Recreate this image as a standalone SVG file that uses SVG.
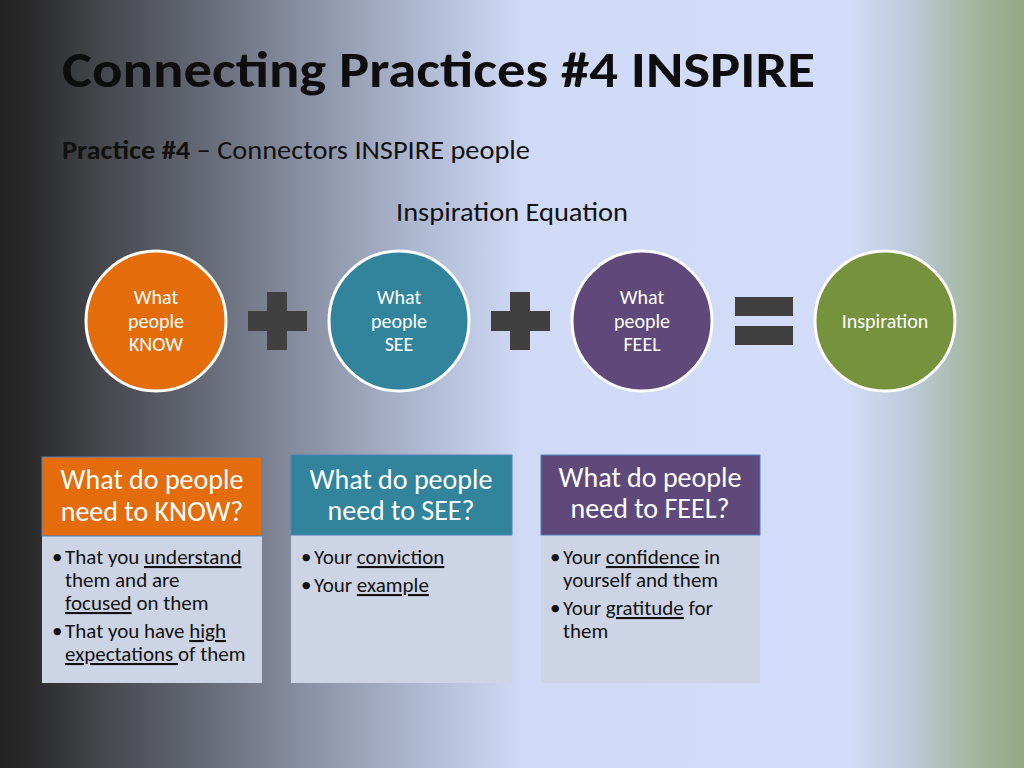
<svg xmlns="http://www.w3.org/2000/svg" width="1024" height="768" viewBox="0 0 1024 768">
<defs>
<linearGradient id="bg" x1="0" y1="0" x2="1024" y2="0" gradientUnits="userSpaceOnUse">
<stop offset="0" stop-color="#222222"/>
<stop offset="0.03" stop-color="#2a2a2b"/>
<stop offset="0.1" stop-color="#45474c"/>
<stop offset="0.2" stop-color="#656a76"/>
<stop offset="0.3" stop-color="#8a91a4"/>
<stop offset="0.42" stop-color="#b2bcd6"/>
<stop offset="0.51" stop-color="#d0d9f5"/>
<stop offset="0.83" stop-color="#d3dcf8"/>
<stop offset="0.89" stop-color="#bccad8"/>
<stop offset="0.95" stop-color="#a3b7a0"/>
<stop offset="1" stop-color="#93a886"/>
</linearGradient>
<style>
text{font-family:Carlito,"Liberation Sans Narrow","Liberation Sans",sans-serif}
.title{font-size:51px;font-weight:bold;fill:#0d0d0d}
.sub{font-size:26px;fill:#111}
.circ{stroke:#ffffff;stroke-width:3}
.ct{font-size:20px;fill:#ffffff;text-anchor:middle}
.sym{fill:#404040}
.hd{font-size:28px;fill:#ffffff;text-anchor:middle}
.body{fill:#cdd4e6}
.bt{font-size:21px;fill:#111}
.u{text-decoration:underline}
</style>
</defs>
<rect width="1024" height="768" fill="url(#bg)"/>
<text class="title" x="62" y="87" textLength="753" lengthAdjust="spacingAndGlyphs">Connecting Practices #4 INSPIRE</text>
<text class="sub" x="62" y="159" textLength="468" lengthAdjust="spacingAndGlyphs"><tspan font-weight="bold">Practice #4</tspan> – Connectors INSPIRE people</text>
<text class="sub" x="512" y="221" text-anchor="middle" textLength="232" lengthAdjust="spacingAndGlyphs">Inspiration Equation</text>

<g id="know">
<circle class="circ" cx="156" cy="321" r="70" fill="#e46c0a"/>
<text class="ct"><tspan x="156" y="304">What</tspan><tspan x="156" y="328">people</tspan><tspan x="156" y="351">KNOW</tspan></text>
</g>
<g id="see">
<circle class="circ" cx="399" cy="321" r="70" fill="#31849b"/>
<text class="ct"><tspan x="399" y="304">What</tspan><tspan x="399" y="328">people</tspan><tspan x="399" y="351">SEE</tspan></text>
</g>
<g id="feel">
<circle class="circ" cx="642" cy="321" r="70" fill="#5f497a"/>
<text class="ct"><tspan x="642" y="304">What</tspan><tspan x="642" y="328">people</tspan><tspan x="642" y="351">FEEL</tspan></text>
</g>
<g id="inspiration">
<circle class="circ" cx="885" cy="321" r="70" fill="#76923c"/>
<text class="ct" x="885" y="328">Inspiration</text>
</g>

<g id="connectors">
<path class="sym" d="M267 292h20v19h20v20h-20v19h-20v-19h-19v-20h19z"/>
<path class="sym" d="M510 292h20v19h20v20h-20v19h-20v-19h-19v-20h19z"/>
<rect class="sym" x="735" y="297" width="58" height="19"/>
<rect class="sym" x="735" y="326" width="58" height="19"/>
</g>

<g id="box-know">
<rect class="body" x="42" y="535" width="220" height="148"/>
<rect x="42" y="457" width="220" height="79" fill="#e46c0a" stroke="#4f81bd" stroke-width="1"/>
<text class="hd"><tspan x="152" y="489">What do people</tspan><tspan x="152" y="521">need to KNOW?</tspan></text>
<text class="bt"><tspan x="52" y="564">•</tspan><tspan x="65" y="564">That you <tspan class="u">understand</tspan></tspan><tspan x="65" y="587">them and are</tspan><tspan x="65" y="610"><tspan class="u">focused</tspan> on them</tspan><tspan x="52" y="638">•</tspan><tspan x="65" y="638">That you have <tspan class="u">high</tspan></tspan><tspan x="65" y="661"><tspan class="u">expectations </tspan>of them</tspan></text>
</g>

<g id="box-see">
<rect class="body" x="291" y="535" width="221" height="148"/>
<rect x="291" y="455" width="221" height="80" fill="#31849b" stroke="#4f81bd" stroke-width="1"/>
<text class="hd"><tspan x="401" y="489">What do people</tspan><tspan x="401" y="520">need to SEE?</tspan></text>
<text class="bt"><tspan x="301" y="564">•</tspan><tspan x="314" y="564">Your <tspan class="u">conviction</tspan></tspan><tspan x="301" y="592">•</tspan><tspan x="314" y="592">Your <tspan class="u">example</tspan></tspan></text>
</g>

<g id="box-feel">
<rect class="body" x="541" y="535" width="219" height="148"/>
<rect x="541" y="455" width="219" height="80" fill="#5f497a" stroke="#4f81bd" stroke-width="1"/>
<text class="hd"><tspan x="650" y="487">What do people</tspan><tspan x="650" y="518">need to FEEL?</tspan></text>
<text class="bt"><tspan x="550" y="564">•</tspan><tspan x="563" y="564">Your <tspan class="u">confidence</tspan> in</tspan><tspan x="563" y="587">yourself and them</tspan><tspan x="550" y="615">•</tspan><tspan x="563" y="615">Your <tspan class="u">gratitude</tspan> for</tspan><tspan x="563" y="638">them</tspan></text>
</g>
</svg>
